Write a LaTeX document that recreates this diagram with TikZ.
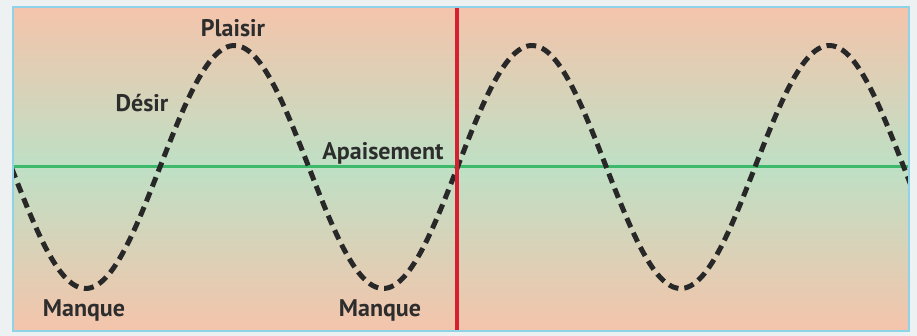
\documentclass[tikz,border=0pt]{standalone}
\usepackage{fontspec}
\setmainfont{PT Sans}
\usetikzlibrary{positioning}
\definecolor{pagecolor}{RGB}{237,241,242}
\definecolor{framecolor}{RGB}{142,211,232}
\definecolor{warmcolor}{RGB}{244,196,171}
\definecolor{calmcolor}{RGB}{190,224,197}
\definecolor{basecolor}{RGB}{60,185,106}
\definecolor{cutcolor}{RGB}{215,32,47}
\definecolor{wavecolor}{RGB}{40,40,40}
\definecolor{labelcolor}{RGB}{45,45,45}

\tikzset{
    phase/.style={font=\fontsize{24}{26}\selectfont\bfseries, text=labelcolor, inner sep=1pt}
}

\begin{document}
\begin{tikzpicture}[x=1pt, y=1pt]

% Picture: 917 x 336 px, 1px = 1pt
% Panel: x 13..909, y 5..329
% Wave: centre 169, amplitude 121.5, period 297.5

\def\midy{169}
\def\amp{121.5}
\def\period{297.5}

\useasboundingbox (0,0) rectangle (917,336);
\fill[pagecolor] (0,0) rectangle (917,336);

% Background gradient
\shade[top color=warmcolor, bottom color=calmcolor] (13,\midy) rectangle (909,329);
\shade[top color=calmcolor, bottom color=warmcolor] (13,5) rectangle (909,\midy);

% Baseline
\draw[basecolor, line width=3pt] (13,\midy) -- (909,\midy);

% Cycle
\begin{scope}
    \clip (13,5) rectangle (909,329);
    \draw[wavecolor, line width=5pt, dash pattern=on 10pt off 6pt]
        plot[domain=6:912, samples=300, smooth] (\x, {\midy+\amp*sin((\x-160)/\period*360)});
\end{scope}

% Cut
\draw[cutcolor, line width=3.2pt] (457,5) -- (457,329);

% Frame
\draw[framecolor, line width=1.8pt] (13,5) rectangle (909,329);

% Labels
\node[phase] (plaisir) at (233,308) {Plaisir};
\node[phase] (desir) at (142,233) {Désir};
\node[phase] (apaisement) at (383,183) {Apaisement};
\node[phase] (manque1) at (84,25) {Manque};
\node[phase] (manque2) at (380,25) {Manque};

\end{tikzpicture}
\end{document}
